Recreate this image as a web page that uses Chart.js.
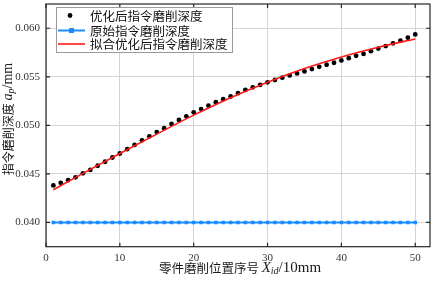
<!DOCTYPE html>
<html>
<head>
<meta charset="utf-8">
<script src="https://cdn.jsdelivr.net/npm/chart.js@4.4.1/dist/chart.umd.min.js"></script>
<style>
  html, body { margin: 0; padding: 0; background: #fff; }
  #wrap { width: 434px; height: 281px; }
</style>
</head>
<body>
<div id="wrap"><canvas id="myChart"></canvas></div>
<script>
// data
const positions = [1, 2, 3, 4, 5, 6, 7, 8, 9, 10, 11, 12, 13, 14, 15, 16, 17, 18, 19, 20,
  21, 22, 23, 24, 25, 26, 27, 28, 29, 30, 31, 32, 33, 34, 35, 36, 37, 38, 39, 40,
  41, 42, 43, 44, 45, 46, 47, 48, 49, 50];
const optimizedDepth = [0.04381, 0.04408, 0.04435, 0.04465, 0.04506, 0.04541, 0.04584, 0.04625, 0.04669, 0.04710,
  0.04755, 0.04798, 0.04846, 0.04887, 0.04931, 0.04971, 0.05015, 0.05056, 0.05093, 0.05134,
  0.05168, 0.05202, 0.05239, 0.05270, 0.05297, 0.05331, 0.05365, 0.05392, 0.05416, 0.05443,
  0.05467, 0.05491, 0.05514, 0.05535, 0.05555, 0.05580, 0.05603, 0.05624, 0.05645, 0.05669,
  0.05692, 0.05716, 0.05736, 0.05764, 0.05791, 0.05817, 0.05845, 0.05872, 0.05903, 0.05937];
const originalDepth = [0.04, 0.04, 0.04, 0.04, 0.04, 0.04, 0.04, 0.04, 0.04, 0.04,
  0.04, 0.04, 0.04, 0.04, 0.04, 0.04, 0.04, 0.04, 0.04, 0.04,
  0.04, 0.04, 0.04, 0.04, 0.04, 0.04, 0.04, 0.04, 0.04, 0.04,
  0.04, 0.04, 0.04, 0.04, 0.04, 0.04, 0.04, 0.04, 0.04, 0.04,
  0.04, 0.04, 0.04, 0.04, 0.04, 0.04, 0.04, 0.04, 0.04, 0.04];
const fitPositions = [1, 5, 10, 15, 20, 25, 30, 35, 40, 45, 50];
const fitDepth = [0.04337, 0.04505, 0.04710, 0.04910, 0.05105, 0.05285, 0.05445, 0.05585, 0.05705, 0.05805, 0.05890];
const xTicks = [0, 10, 20, 30, 40, 50];
const yTicks = [0.040, 0.045, 0.050, 0.055, 0.060];
const seriesNames = ["优化后指令磨削深度", "原始指令磨削深度", "拟合优化后指令磨削深度"];

const cjk = '"Noto Sans CJK SC", sans-serif';
const serif = '"Liberation Serif", "DejaVu Serif", serif';
const blue = "#1a8cff";

function pairs(xs, ys) {
  return xs.map((x, i) => ({ x: x, y: ys[i] }));
}

// frame with inward ticks on all sides
const framePlugin = {
  id: "frame",
  afterDatasetsDraw(chart) {
    const { ctx, chartArea: a, scales } = chart;
    ctx.save();
    ctx.strokeStyle = "#262626";
    ctx.lineWidth = 1.2;
    ctx.beginPath();
    xTicks.forEach(v => {
      const px = scales.x.getPixelForValue(v);
      ctx.moveTo(px, a.top); ctx.lineTo(px, a.top + 4);
      ctx.moveTo(px, a.bottom); ctx.lineTo(px, a.bottom - 4);
    });
    yTicks.forEach(v => {
      const py = scales.y.getPixelForValue(v);
      ctx.moveTo(a.left, py); ctx.lineTo(a.left + 4, py);
      ctx.moveTo(a.right, py); ctx.lineTo(a.right - 4, py);
    });
    ctx.stroke();
    ctx.strokeRect(a.left, a.top, a.right - a.left, a.bottom - a.top);
    ctx.restore();
  }
};

// draw a run of text pieces with different fonts
function drawRuns(ctx, runs, x, y) {
  let total = 0;
  runs.forEach(r => { ctx.font = r.font; r.w = ctx.measureText(r.text).width; total += r.w; });
  let cx = x - total / 2;
  runs.forEach(r => {
    ctx.font = r.font;
    ctx.fillText(r.text, cx, y + (r.dy || 0));
    cx += r.w;
  });
}

const titlePlugin = {
  id: "titles",
  afterDraw(chart) {
    const { ctx, chartArea: a } = chart;
    ctx.save();
    ctx.fillStyle = "#1a1a1a";
    ctx.textBaseline = "middle";
    ctx.textAlign = "left";
    drawRuns(ctx, [
      { text: "零件磨削位置序号 ", font: "12.5px " + cjk },
      { text: "X", font: "italic 15px " + serif },
      { text: "id", font: "italic 10px " + serif, dy: 3 },
      { text: "/10mm", font: "15px " + serif }
    ], (a.left + a.right) / 2 + 2, 268);

    ctx.translate(8, 119);
    ctx.rotate(-Math.PI / 2);
    drawRuns(ctx, [
      { text: "指令磨削深度 ", font: "12px " + cjk },
      { text: "a", font: "italic 14px " + serif },
      { text: "p", font: "italic 10px " + serif, dy: 3 },
      { text: "/mm", font: "14px " + serif }
    ], 0, 0);
    ctx.restore();
  }
};

const legendPlugin = {
  id: "boxLegend",
  afterDraw(chart) {
    const { ctx } = chart;
    ctx.save();
    ctx.fillStyle = "#fff";
    ctx.strokeStyle = "#9a9a9a";
    ctx.lineWidth = 1;
    ctx.fillRect(56, 7, 177, 45);
    ctx.strokeRect(56.5, 7.5, 176, 45);
    const rows = [15.5, 30.5, 44];
    // black dot
    ctx.fillStyle = "#000";
    ctx.beginPath();
    ctx.arc(70, rows[0], 2.4, 0, Math.PI * 2);
    ctx.fill();
    // blue line with square
    ctx.strokeStyle = blue;
    ctx.lineWidth = 2;
    ctx.beginPath();
    ctx.moveTo(58, rows[1]); ctx.lineTo(85, rows[1]);
    ctx.stroke();
    ctx.fillStyle = blue;
    ctx.fillRect(69, rows[1] - 2.5, 5, 5);
    // red line
    ctx.strokeStyle = "#ff1a1a";
    ctx.lineWidth = 1.6;
    ctx.beginPath();
    ctx.moveTo(58, rows[2]); ctx.lineTo(85, rows[2]);
    ctx.stroke();
    ctx.fillStyle = "#111";
    ctx.font = "12.5px " + cjk;
    ctx.textBaseline = "middle";
    seriesNames.forEach((name, i) => ctx.fillText(name, 90, rows[i] + 0.5));
    ctx.restore();
  }
};

const ctx = document.getElementById("myChart");
new Chart(ctx, {
  type: "scatter",
  data: {
    datasets: [
      {
        label: seriesNames[0],
        data: pairs(positions, optimizedDepth),
        showLine: false,
        pointRadius: 2.4,
        pointBackgroundColor: "#000",
        pointBorderWidth: 0,
        order: 2
      },
      {
        label: seriesNames[1],
        data: pairs(positions, originalDepth),
        showLine: true,
        borderColor: blue,
        borderWidth: 2,
        pointStyle: "rect",
        pointRadius: 2.5,
        pointBackgroundColor: blue,
        pointBorderWidth: 0,
        order: 3
      },
      {
        label: seriesNames[2],
        data: pairs(fitPositions, fitDepth),
        showLine: true,
        borderColor: "#ff1a1a",
        borderWidth: 1.6,
        pointRadius: 0,
        cubicInterpolationMode: "monotone",
        order: 1
      }
    ]
  },
  options: {
    responsive: true,
    maintainAspectRatio: false,
    animation: false,
    layout: { padding: { top: -3, right: 1.3, left: 0, bottom: 0 } },
    plugins: { legend: { display: false }, tooltip: { enabled: false } },
    scales: {
      x: {
        type: "linear",
        min: 0,
        max: 52,
        afterBuildTicks: s => { s.ticks = xTicks.map(v => ({ value: v })); },
        afterFit: s => { s.height = 34.3; s.paddingLeft = 0; s.paddingRight = 0; },
        grid: { color: "#d4d4d4", lineWidth: 1, drawTicks: false },
        border: { display: false },
        ticks: { padding: 5, color: "#333", font: { family: serif, size: 11 }, maxRotation: 0 }
      },
      y: {
        type: "linear",
        min: 0.0375,
        max: 0.0625,
        afterBuildTicks: s => { s.ticks = yTicks.map(v => ({ value: v })); },
        afterFit: s => { s.width = 46; s.paddingTop = 0; s.paddingBottom = 0; },
        grid: { color: "#d4d4d4", lineWidth: 1, drawTicks: false },
        border: { display: false },
        ticks: {
          padding: 6,
          color: "#333",
          font: { family: serif, size: 11 },
          callback: v => v.toFixed(3)
        }
      }
    }
  },
  plugins: [framePlugin, titlePlugin, legendPlugin]
});
</script>
</body>
</html>
